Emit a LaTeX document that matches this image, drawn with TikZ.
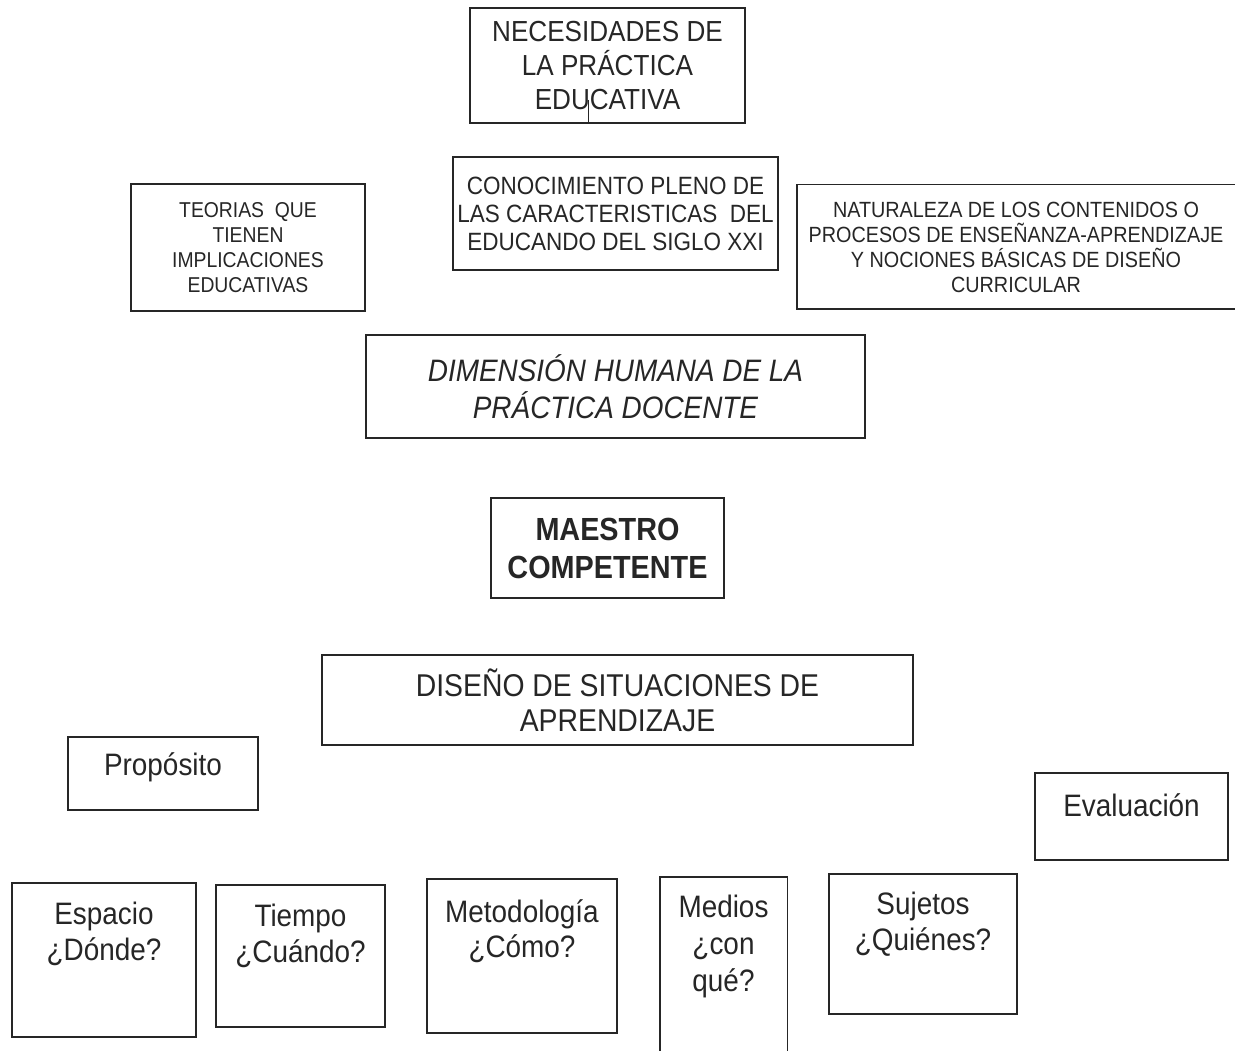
\documentclass[tikz,border=0pt]{standalone}
\usepackage{fontspec}
\setmainfont{Liberation Sans}[FakeStretch=0.9]
\usetikzlibrary{positioning}

\begin{document}
\begin{tikzpicture}[x=1pt, y=-1pt,
        box_style/.style={rectangle,draw=black!85,line width=1.4pt,inner sep=0pt,align=center,text=black!85},
        open_box_style/.style={rectangle,inner sep=0pt,align=center,text=black!85},
        side_style/.style={draw=black!85,line width=1.4pt},
        label_style/.style={inner sep=0pt,align=center,text=black!85,font=\fontsize{31}{36}\selectfont}]

        \useasboundingbox[fill=white] (0,0) rectangle (1235,1051);

        \node [box_style,minimum width=275pt,minimum height=115pt,font=\fontsize{29}{34}\selectfont](nec) at (607.5,65.5) {NECESIDADES DE\\LA PRÁCTICA\\EDUCATIVA};

        \node [box_style,minimum width=325pt,minimum height=113pt,font=\fontsize{25}{28}\selectfont](con) at (615.5,213.5) {CONOCIMIENTO PLENO DE\\LAS CARACTERISTICAS \ DEL\\EDUCANDO DEL SIGLO XXI};

        \node [box_style,minimum width=234pt,minimum height=127pt,font=\fontsize{21.5}{25}\selectfont](teo) at (248,247.5) {TEORIAS \ QUE\\TIENEN\\IMPLICACIONES\\EDUCATIVAS};

        \node [open_box_style,minimum width=438pt,minimum height=124pt,font=\fontsize{22}{25}\selectfont](nat) at (1016,247) {NATURALEZA DE LOS CONTENIDOS O\\PROCESOS DE ENSEÑANZA-APRENDIZAJE\\Y NOCIONES BÁSICAS DE DISEÑO\\CURRICULAR};

        \node [box_style,minimum width=499pt,minimum height=103pt,font=\fontsize{31}{37}\selectfont\itshape](dim) at (615.5,386.5) {DIMENSIÓN HUMANA DE LA\\PRÁCTICA DOCENTE};

        \node [box_style,minimum width=233pt,minimum height=100pt,font=\fontsize{32}{38}\selectfont\bfseries](mae) at (607.5,548) {MAESTRO\\COMPETENTE};

        \node [box_style,minimum width=591pt,minimum height=90pt,font=\fontsize{31.5}{35}\selectfont](dis) at (617.5,700) {DISEÑO DE SITUACIONES DE\\APRENDIZAJE};

        \node [box_style,minimum width=190pt,minimum height=73pt](pro) at (163,773.5) {};
        \node [label_style,below=16pt of pro.north](pro_text) {Propósito};

        \node [box_style,minimum width=193pt,minimum height=87pt](eva) at (1131.5,816.5) {};
        \node [label_style,below=21pt of eva.north](eva_text) {Evaluación};

        \node [box_style,minimum width=184pt,minimum height=154pt](esp) at (104,960) {};
        \node [label_style,below=20pt of esp.north](esp_text) {Espacio\\¿Dónde?};

        \node [box_style,minimum width=169pt,minimum height=142pt](tie) at (300.5,956) {};
        \node [label_style,below=20pt of tie.north](tie_text) {Tiempo\\¿Cuándo?};

        \node [box_style,minimum width=190pt,minimum height=154pt](met) at (522,956) {};
        \node [label_style,font=\fontsize{31}{35}\selectfont,below=21pt of met.north](met_text) {Metodología\\¿Cómo?};

        \node [open_box_style,minimum width=127pt,minimum height=174pt](med) at (723.5,964) {};
        \node [label_style,font=\fontsize{31}{37}\selectfont,below=18pt of med.north](med_text) {Medios\\¿con\\qué?};

        \node [box_style,minimum width=188pt,minimum height=140pt](suj) at (923,944) {};
        \node [label_style,below=19pt of suj.north](suj_text) {Sujetos\\¿Quiénes?};

        \draw [side_style] (nat.north east) -- (nat.north west) -- (nat.south west) -- (nat.south east);

        \draw [side_style] (med.south west) -- (med.north west) -- (med.north east) -- (med.south east);

        \coordinate (tick) at (588,100);
        \draw [side_style,line width=1pt] (tick) -- (tick |- nec.south);

        \end{tikzpicture}
\end{document}
